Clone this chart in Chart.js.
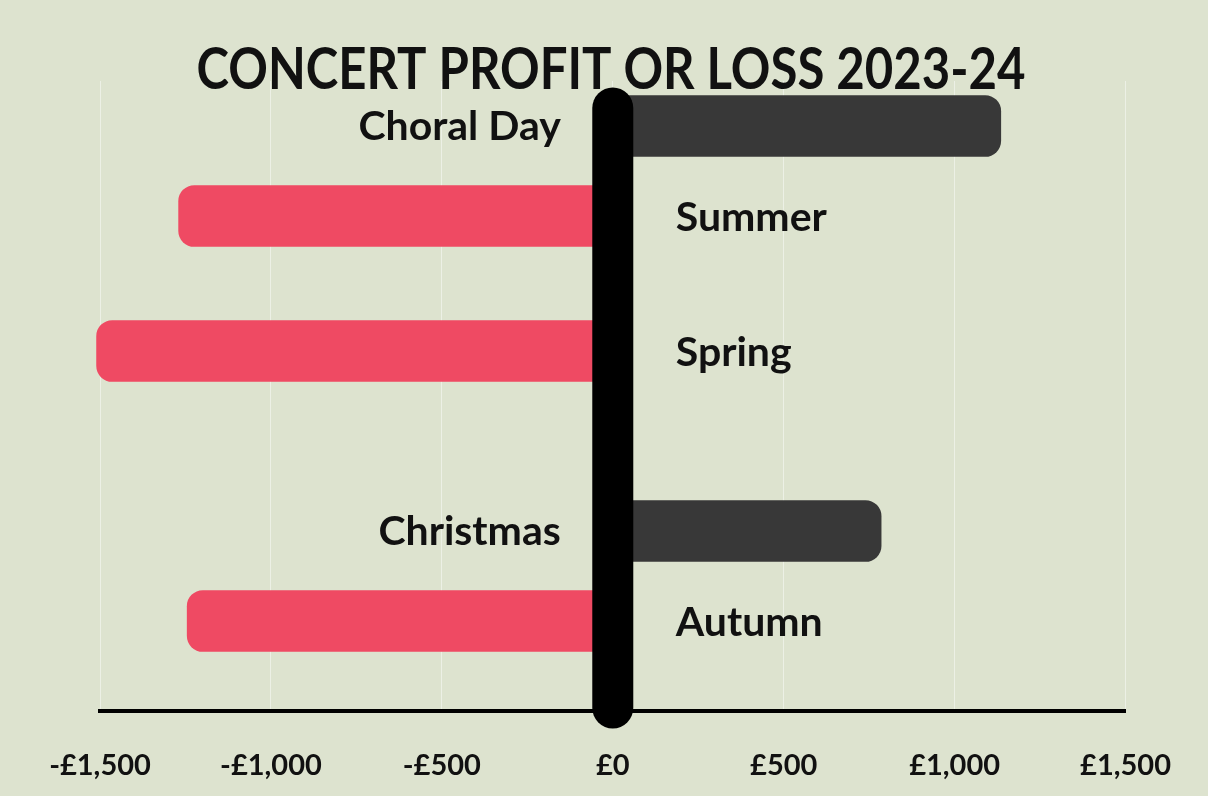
<!DOCTYPE html>
<html>
<head>
<meta charset="utf-8">
<script src="https://cdn.jsdelivr.net/npm/chart.js@4/dist/chart.umd.min.js"></script>
<style>
  html, body { margin: 0; padding: 0; background: #dde3cf; }
  #wrap { width: 1208px; height: 796px; position: relative; }
</style>
</head>
<body>
<div id="wrap"><canvas id="c" width="1208" height="796"></canvas></div>
<script>
// ---- data (blank categories are the empty rows of the original sheet) ----
const titleText = 'CONCERT PROFIT OR LOSS 2023-24';
const categories = ['', 'Choral Day', '', 'Summer', '', '', 'Spring', '', '', '', 'Christmas', '', 'Autumn', '', ''];
const profitLoss = [null, 1135, null, -1270, null, null, -1510, null, null, null, 785, null, -1245, null, null];
const tickValues = [-1500, -1000, -500, 0, 500, 1000, 1500];

const BG = '#dde3cf';
const LOSS = '#ef4a63';
const PROFIT = '#383838';

const fmt = v => (v < 0 ? '-' : '') + '£' + Math.abs(v).toLocaleString('en-GB');

const bgPlugin = {
  id: 'bg',
  beforeDraw(chart) {
    const ctx = chart.ctx;
    ctx.save();
    ctx.fillStyle = BG;
    ctx.fillRect(0, 0, chart.width, chart.height);
    ctx.restore();
  }
};

const overlayPlugin = {
  id: 'overlay',
  afterDatasetsDraw(chart) {
    const ctx = chart.ctx;
    const xs = chart.scales.x;
    const zx = xs.getPixelForValue(0);
    const area = chart.chartArea;
    // thick zero line with round caps
    ctx.save();
    ctx.strokeStyle = '#000';
    ctx.lineWidth = 41;
    ctx.lineCap = 'round';
    ctx.beginPath();
    ctx.moveTo(zx, area.top + 27);
    ctx.lineTo(zx, area.bottom - 3);
    ctx.stroke();
    ctx.restore();

    // category labels beside the zero line
    const meta = chart.getDatasetMeta(0);
    ctx.save();
    ctx.fillStyle = '#111';
    ctx.font = 'bold 41px Lato';
    ctx.textBaseline = 'middle';
    categories.forEach((name, i) => {
      const v = profitLoss[i];
      if (!name || v === null) return;
      const el = meta.data[i];
      if (v >= 0) {
        ctx.textAlign = 'right';
        ctx.fillText(name, zx - 52, el.y + 1);
      } else {
        ctx.textAlign = 'left';
        ctx.fillText(name, zx + 63, el.y + 2);
      }
    });
    ctx.restore();

    // title (condensed to match the original width)
    ctx.save();
    ctx.fillStyle = '#111';
    ctx.font = 'bold 57px Lato';
    ctx.textBaseline = 'alphabetic';
    ctx.textAlign = 'center';
    const w = ctx.measureText(titleText).width;
    const target = 829;
    ctx.translate(611, 89);
    ctx.scale(Math.min(1, target / w), 1);
    ctx.fillText(titleText, 0, 0);
    ctx.restore();
  }
};

new Chart(document.getElementById('c'), {
  type: 'bar',
  data: {
    labels: categories,
    datasets: [{
      label: 'Profit or loss',
      data: profitLoss,
      backgroundColor: c => (c.raw !== null && c.raw < 0) ? LOSS : PROFIT,
      barThickness: 61,
      borderRadius: 16,
      borderSkipped: 'start',
      clip: false
    }]
  },
  options: {
    indexAxis: 'y',
    responsive: false,
    animation: false,
    devicePixelRatio: 1,
    layout: { padding: { top: 81, left: 100, right: 76, bottom: 0 } },
    plugins: {
      legend: { display: false },
      tooltip: { enabled: false },
      title: { display: false }
    },
    scales: {
      y: {
        type: 'category',
        display: false,
        offset: false,
        grid: { display: false }
      },
      x: {
        type: 'linear',
        min: -1500,
        max: 1500,
        afterBuildTicks: s => { s.ticks = tickValues.map(v => ({ value: v })); },
        afterFit: s => { s.height = 85; },
        grid: {
          display: true,
          color: 'rgba(255,255,255,0.45)',
          lineWidth: 1,
          drawTicks: false
        },
        border: { display: true, color: '#000', width: 4 },
        ticks: {
          padding: 37,
          color: '#111',
          font: { family: 'Lato', weight: 'bold', size: 29 },
          callback: v => fmt(v)
        }
      }
    }
  },
  plugins: [bgPlugin, overlayPlugin]
});
</script>
</body>
</html>
